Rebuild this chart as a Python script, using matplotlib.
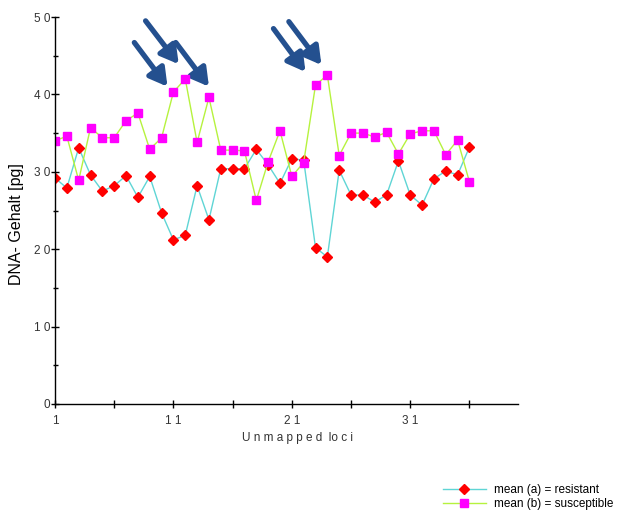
import matplotlib.pyplot as plt
from matplotlib.patches import FancyArrowPatch

plt.rcParams['font.family'] = ['Liberation Sans', 'DejaVu Sans']

# Mittelwerte pro Locus
loci = list(range(1, 37))
mean_a = [29.2, 27.9, 33.1, 29.6, 27.5, 28.2, 29.5, 26.7, 29.4, 24.7, 21.2, 21.8,
          28.2, 23.8, 30.4, 30.4, 30.4, 32.9, 30.9, 28.5, 31.7, 31.5, 20.2, 19.0,
          30.2, 27.0, 27.0, 26.1, 27.0, 31.4, 27.0, 25.7, 29.1, 30.1, 29.6, 33.2]
mean_b = [34.0, 34.6, 28.9, 35.7, 34.4, 34.4, 36.6, 37.6, 32.9, 34.4, 40.3, 42.0,
          33.8, 39.6, 32.8, 32.8, 32.7, 26.3, 31.3, 35.3, 29.4, 31.2, 41.2, 42.5,
          32.1, 35.0, 35.0, 34.5, 35.1, 32.3, 34.9, 35.3, 35.3, 32.2, 34.1, 28.7]

# Pfeile auf die auffaelligen Loci (Start -> Spitze)
pfeile = [((7.7, 46.7), (10.5, 41.0)),
          ((8.65, 49.5), (11.45, 43.9)),
          ((11.2, 46.7), (14.0, 41.0)),
          ((19.45, 48.5), (22.15, 42.9)),
          ((20.75, 49.4), (23.5, 43.8))]

x_ticks = [1, 6, 11, 16, 21, 26, 31, 36]
x_labels = ["1", "", "1 1", "", "2 1", "", "3 1", ""]
y_ticks = [0, 10, 20, 30, 40, 50]
y_labels = ["0", "1 0", "2 0", "3 0", "4 0", "5 0"]

fig = plt.figure(figsize=(6.17, 5.11), dpi=100)
ax = fig.add_axes([55 / 617, 1 - 404 / 511, 463 / 617, 387 / 511])

ax.plot(loci, mean_a, color="#5fd5d5", lw=1.0, marker="D", ms=5.6,
        mfc="#ff0000", mec="#ff0000", label="mean (a) = resistant")
ax.plot(loci, mean_b, color="#b6f23e", lw=1.0, marker="s", ms=5.8,
        mfc="#ff00ff", mec="#ff00ff", label="mean (b) = susceptible")

for start, ende in pfeile:
    pfeil = FancyArrowPatch(start, ende, arrowstyle="-|>,head_length=1.05,head_width=0.6",
                            mutation_scale=10, color="#24508f", lw=3.8,
                            shrinkA=0, shrinkB=0, clip_on=False)
    ax.add_patch(pfeil)

ax.set_xlim(1, 40.1)
ax.set_ylim(0, 50)
ax.spines["top"].set_visible(False)
ax.spines["right"].set_visible(False)
ax.spines["left"].set_linewidth(1.0)
ax.spines["bottom"].set_linewidth(1.0)

ax.set_xticks(x_ticks)
ax.set_xticklabels(x_labels)
ax.set_yticks(y_ticks)
ax.set_yticklabels(y_labels)
ax.set_yticks([5, 15, 25, 35, 45], minor=True)
ax.tick_params(axis="both", which="major", direction="inout", length=6, width=1,
               labelsize=8.5, labelcolor="#333333")
ax.tick_params(axis="y", which="major", pad=0.5)
ax.tick_params(axis="x", which="major", pad=5)
ax.tick_params(axis="y", which="minor", direction="inout", length=3.6, width=1)

fig.text(297 / 617, 1 - 438 / 511, "U n m a p p e d  lo c i", ha="center", va="center",
         fontsize=8.5, color="#333333")
fig.text(17 / 617, 1 - 224 / 511, "DNA- Gehalt [pg]", rotation=90, ha="center",
         va="center", fontsize=11.5)

fig.legend(loc="upper left", bbox_to_anchor=(443 / 617, 1 - 484 / 511), frameon=False,
           fontsize=8.5, handlelength=3.6, handletextpad=0.75, labelspacing=0.15,
           borderpad=0, borderaxespad=0, markerscale=1.0)

plt.savefig("out.png", dpi=100)
